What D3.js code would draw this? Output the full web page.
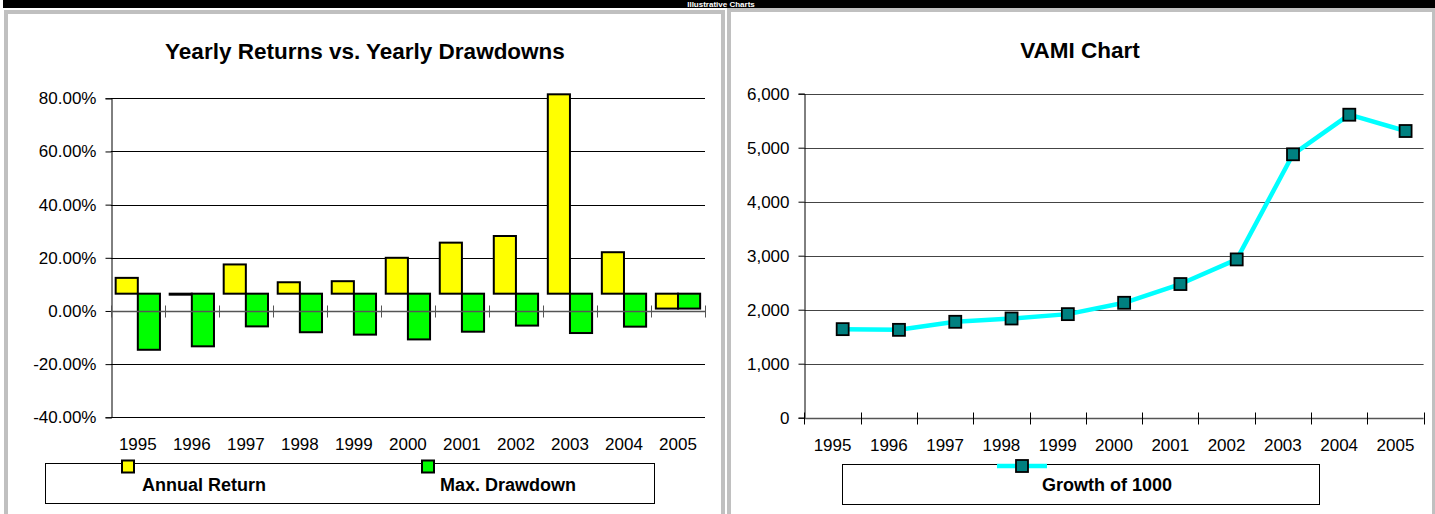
<!DOCTYPE html>
<html><head><meta charset="utf-8">
<script src="https://cdn.jsdelivr.net/npm/d3@7"></script>
<style>
html,body{margin:0;padding:0;background:#fff;overflow:hidden}
svg{display:block;font-family:"Liberation Sans",Arial,sans-serif}
</style></head>
<body>
<svg id="c" width="1435" height="514"></svg>
<script>
// ---- data ----
const years = ["1995","1996","1997","1998","1999","2000","2001","2002","2003","2004","2005"];
const annualReturn = [12.45, 6.2, 17.5, 10.8, 11.2, 20.0, 25.7, 28.2, 81.5, 22.1, 0.9];
const maxDrawdown = [-14.6, -13.3, -5.8, -8.0, -8.9, -10.7, -7.8, -5.5, -8.3, -5.9, 0.9];
const barOrigin = 6.5; // value where the bars start in the reference
const pctTicks = [-40, -20, 0, 20, 40, 60, 80];
const vami = [1640, 1627, 1776, 1837, 1918, 2128, 2475, 2931, 4878, 5611, 5309];
const vamiTicks = [0, 1000, 2000, 3000, 4000, 5000, 6000];
const leftTitle = "Yearly Returns vs. Yearly Drawdowns";
const rightTitle = "VAMI Chart";
const headerText = "Illustrative Charts";

const svg = d3.select("#c");
const FONT = 17;
const hyphen = s => s.replace("\u2212","-");

// header bar
svg.append("rect").attr("x",3).attr("y",0).attr("width",1432).attr("height",8).attr("fill","#000");
svg.append("text").attr("x",721).attr("y",7).attr("text-anchor","middle")
  .attr("font-size",8).attr("font-weight","bold").attr("fill","#fff").text(headerText);

// panel frames
svg.append("rect").attr("x",6).attr("y",12).attr("width",717).attr("height",520)
  .attr("fill","#fff").attr("stroke","#c0c0c0").attr("stroke-width",4);
svg.append("rect").attr("x",729).attr("y",10).attr("width",705).attr("height",520)
  .attr("fill","#fff").attr("stroke","#c0c0c0").attr("stroke-width",4);
svg.append("rect").attr("x",1433).attr("y",8).attr("width",2).attr("height",506).attr("fill","#c0c0c0");

// ================= LEFT CHART =================
const L = {x0:110.8, x1:705, y0:98.3, y1:417.3};
const xL = d3.scaleBand().domain(years).range([L.x0, L.x1]);
const yL = d3.scaleLinear().domain([-40, 80]).range([L.y1, L.y0]);
const gL = svg.append("g");

gL.append("text").attr("x",365).attr("y",59).attr("text-anchor","middle")
  .attr("font-size",22.5).attr("font-weight","bold").text(leftTitle);

// gridlines
gL.append("g").selectAll("line").data(pctTicks.filter(d=>d!==0)).join("line")
  .attr("x1",L.x0).attr("x2",L.x1).attr("y1",d=>Math.round(yL(d))+0.5).attr("y2",d=>Math.round(yL(d))+0.5)
  .attr("stroke","#000").attr("stroke-width",1);

// y axis
const yAxL = d3.axisLeft(yL).tickValues(pctTicks).tickSize(6).tickPadding(9)
  .tickFormat(d=>hyphen(d3.format(".2f")(d))+"%");
const gyL = gL.append("g").attr("transform",`translate(${Math.round(L.x0)+0.5},0)`).call(yAxL);
gyL.select(".domain").attr("stroke","#000");
gyL.selectAll(".tick line").attr("stroke","#000");
gyL.selectAll("text").attr("font-size",FONT).attr("fill","#000").attr("font-family","Liberation Sans, Arial");

// bars
const bw = xL.bandwidth()*0.41;
const barGroup = gL.append("g");
function barRect(sel, vals, off, color){
  sel.selectAll(null).data(vals).join("rect")
    .attr("x",(d,i)=>xL(years[i]) + xL.bandwidth()/2 + off)
    .attr("y",d=>Math.min(yL(d), yL(barOrigin)))
    .attr("width",bw)
    .attr("height",d=>Math.max(1, Math.abs(yL(d)-yL(barOrigin))))
    .attr("fill",color).attr("stroke","#000").attr("stroke-width",2);
}
barRect(barGroup, annualReturn, -bw, "#ffff00");
barRect(barGroup, maxDrawdown, 0, "#00ff00");

// x axis at 0 with crossing ticks
const y0L = Math.round(yL(0))+0.5;
gL.append("line").attr("x1",L.x0).attr("x2",L.x1).attr("y1",y0L).attr("y2",y0L).attr("stroke","#555").attr("stroke-width",1.5);
const bounds = years.map(y=>xL(y)).concat([L.x1]);
gL.append("g").selectAll("line").data(bounds).join("line")
  .attr("x1",d=>Math.round(d)+0.5).attr("x2",d=>Math.round(d)+0.5)
  .attr("y1",y0L-6).attr("y2",y0L+6).attr("stroke","#555").attr("stroke-width",1);

// x labels
gL.append("g").selectAll("text").data(years).join("text")
  .attr("x",d=>xL(d)+xL.bandwidth()/2).attr("y",450).attr("text-anchor","middle")
  .attr("font-size",FONT).text(d=>d);

// legend
gL.append("rect").attr("x",45.5).attr("y",463.5).attr("width",609).attr("height",40)
  .attr("fill","#fff").attr("stroke","#000").attr("stroke-width",1);
const legL = [{name:"Annual Return", color:"#ffff00", mx:128, tx:204},
              {name:"Max. Drawdown", color:"#00ff00", mx:428, tx:508}];
legL.forEach(d=>{
  gL.append("rect").attr("x",d.mx-6).attr("y",460.5).attr("width",12).attr("height",12)
    .attr("fill",d.color).attr("stroke","#000").attr("stroke-width",2);
  gL.append("text").attr("x",d.tx).attr("y",491).attr("text-anchor","middle")
    .attr("font-size",18).attr("font-weight","bold").text(d.name);
});

// ================= RIGHT CHART =================
const R = {x0:804.4, x1:1423.6, y0:93.7, y1:417.7};
const xR = d3.scaleBand().domain(years).range([R.x0, R.x1]);
const yR = d3.scaleLinear().domain([0, 6000]).range([R.y1, R.y0]);
const gR = svg.append("g");

gR.append("text").attr("x",1080).attr("y",58).attr("text-anchor","middle")
  .attr("font-size",22.5).attr("font-weight","bold").text(rightTitle);

gR.append("g").selectAll("line").data(vamiTicks.filter(d=>d!==0)).join("line")
  .attr("x1",R.x0).attr("x2",R.x1).attr("y1",d=>Math.round(yR(d))+0.5).attr("y2",d=>Math.round(yR(d))+0.5)
  .attr("stroke","#444").attr("stroke-width",1);

const yAxR = d3.axisLeft(yR).tickValues(vamiTicks).tickSize(6).tickPadding(9).tickFormat(d3.format(","));
const gyR = gR.append("g").attr("transform",`translate(${Math.round(R.x0)+0.5},0)`).call(yAxR);
gyR.select(".domain").attr("stroke","#000");
gyR.selectAll(".tick line").attr("stroke","#000");
gyR.selectAll("text").attr("font-size",FONT).attr("fill","#000").attr("font-family","Liberation Sans, Arial");

const y0R = Math.round(yR(0))+0.5;
gR.append("line").attr("x1",R.x0).attr("x2",R.x1).attr("y1",y0R).attr("y2",y0R).attr("stroke","#555").attr("stroke-width",1.5);
const boundsR = years.map(y=>xR(y)).concat([R.x1]);
gR.append("g").selectAll("line").data(boundsR).join("line")
  .attr("x1",d=>Math.round(d)+0.5).attr("x2",d=>Math.round(d)+0.5)
  .attr("y1",y0R-6).attr("y2",y0R+6).attr("stroke","#000").attr("stroke-width",1);

gR.append("g").selectAll("text").data(years).join("text")
  .attr("x",d=>xR(d)+xR.bandwidth()/2).attr("y",451).attr("text-anchor","middle")
  .attr("font-size",FONT).text(d=>d);

const ptOff = xR.bandwidth()*0.68;
const line = d3.line().x((d,i)=>xR(years[i])+ptOff).y(d=>yR(d));
gR.append("path").datum(vami).attr("d",line).attr("fill","none")
  .attr("stroke","#00ffff").attr("stroke-width",4.5).attr("stroke-linejoin","round");
gR.append("g").selectAll("rect").data(vami).join("rect")
  .attr("x",(d,i)=>xR(years[i])+ptOff-6).attr("y",d=>yR(d)-6).attr("width",12).attr("height",12)
  .attr("fill","#008080").attr("stroke","#000").attr("stroke-width",1.8);

// legend
gR.append("rect").attr("x",842.5).attr("y",464.5).attr("width",477).attr("height",40)
  .attr("fill","#fff").attr("stroke","#000").attr("stroke-width",1);
gR.append("line").attr("x1",997).attr("x2",1047).attr("y1",466).attr("y2",466)
  .attr("stroke","#00ffff").attr("stroke-width",4.5);
gR.append("rect").attr("x",1016).attr("y",460).attr("width",12).attr("height",12)
  .attr("fill","#008080").attr("stroke","#000").attr("stroke-width",1.8);
gR.append("text").attr("x",1107).attr("y",491).attr("text-anchor","middle")
  .attr("font-size",18).attr("font-weight","bold").text("Growth of 1000");
</script>
</body></html>
